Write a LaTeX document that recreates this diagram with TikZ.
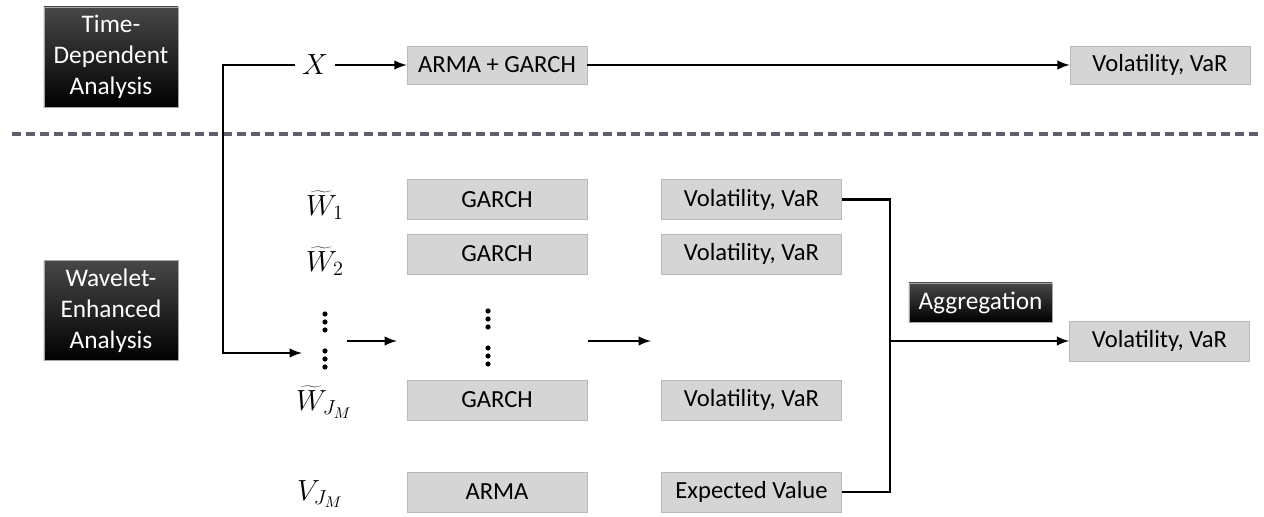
\documentclass[tikz,border=0pt]{standalone}
\usepackage{fontspec}
\setmainfont{Carlito}
\usetikzlibrary{positioning}

\tikzset{
  box/.style={draw=gray!55, fill=gray!33, minimum width=4.5cm, minimum height=1cm,
    inner sep=0pt, font=\fontsize{17.5}{20}\selectfont},
  dark/.style={draw=gray!70, top color=black!72, bottom color=black, text=white,
    align=center, minimum width=3.35cm, minimum height=2.5cm, inner sep=0pt,
    font=\fontsize{18}{22}\selectfont},
  lbl/.style={font=\fontsize{22}{26}\selectfont, inner xsep=5pt, inner ysep=1pt},
  wire/.style={line width=2pt},
  sep/.style={line width=2.2pt, draw={rgb,255:red,95;green,95;blue,110},
    dash pattern=on 6.4pt off 3.6pt}
}

\begin{document}
\begin{tikzpicture}[x=0.025cm, y=-0.025cm]
    \useasboundingbox (0,0) rectangle (1264,517);

    % split between the two analyses
    \draw[sep] (12,134) -- (1264,134);

    \node[dark] (td) at (111,57) {Time-\\Dependent\\Analysis};
    \node[dark] (we) at (111,310.5) {Wavelet-\\Enhanced\\Analysis};

    % time-dependent branch
    \node[lbl] (X) at (315,65) {$X$};
    \node[box, minimum height=0.95cm] (ag) at (497,65) {ARMA + GARCH};
    \node[box, minimum height=0.95cm] (v0) at (1160,65) {Volatility, VaR};

    % wavelet branch
    \node[lbl] (w1) at (325,205) {$\widetilde{W}_1$};
    \node[lbl] (w2) at (325,261) {$\widetilde{W}_2$};
    \node[lbl] (wj) at (324,402) {$\widetilde{W}_{J_M}$};
    \node[lbl] (vj) at (320,494) {$V_{J_M}$};

    \node[box] (g1) at (497,199.5) {GARCH};
    \node[box] (g2) at (497,254)   {GARCH};
    \node[box] (gj) at (497,400)   {GARCH};
    \node[box] (ar) at (497,492)   {ARMA};

    \node[box] (v1) at (751.5,199.5) {Volatility, VaR};
    \node[box] (v2) at (751.5,254)   {Volatility, VaR};
    \node[box] (vv) at (751.5,400)   {Volatility, VaR};
    \node[box] (ev) at (751.5,492)   {Expected Value};

    \node[dark, minimum width=3.575cm, minimum height=0.975cm] (agr) at (980.5,302.5) {Aggregation};
    \node[box] (vf) at (1159.5,341) {Volatility, VaR};

    \foreach \y in {314,322,330,351,359,367} \fill (325,\y) circle (0.065cm);
    \foreach \y in {311,319,327,348,356,364} \fill (488,\y) circle (0.065cm);

    \coordinate (c) at (223,65);
    \coordinate (in) at (302,353);
    \coordinate (a1) at (347,341);
    \coordinate (a2) at (397,341);
    \coordinate (b1) at (588,341);
    \coordinate (b2) at (651,341);
    \coordinate (j) at (890,341);

    \draw[wire, ->, >=latex] (X) -- (ag);
    \draw[wire, ->, >=latex] (ag) -- (v0);
    \draw[wire, ->, >=latex] (X.west) -- (c) |- (in);
    \draw[wire, ->, >=latex] (a1) -- (a2);
    \draw[wire, ->, >=latex] (b1) -- (b2);
    \draw[wire] (v1.east) -| (j);
    \draw[wire] (ev.east) -| (j);
    \draw[wire, ->, >=latex] (j) -- (vf);
\end{tikzpicture}
\end{document}
